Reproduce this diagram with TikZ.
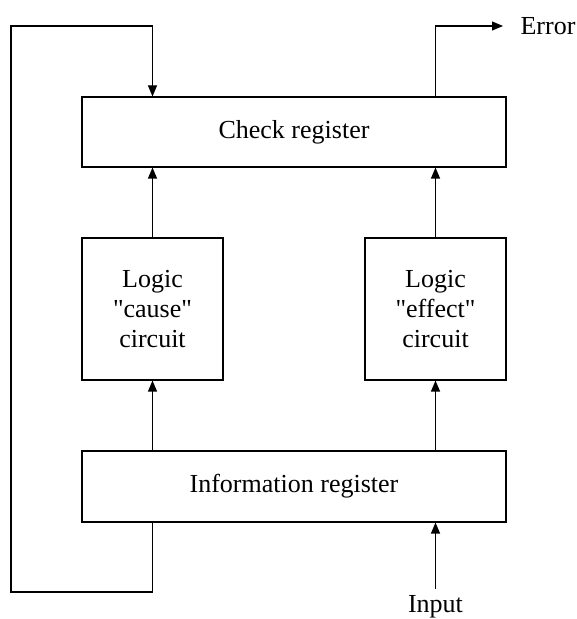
\documentclass[tikz,border=0pt]{standalone}
\usepackage{fontspec}
\setmainfont{Liberation Serif}
\usetikzlibrary{arrows.meta}

\begin{document}
\begin{tikzpicture}[x=1pt, y=1pt, >={Triangle[length=11pt, width=9pt]}, line width=1.1pt,
    block/.style={draw, inner sep=0pt, align=center, font=\fontsize{26}{30}\selectfont},
    lbl/.style={inner sep=0pt, font=\fontsize{26}{30}\selectfont}]
    \useasboundingbox (0,0) rectangle (577,619);
    \node[block, minimum width=424pt, minimum height=70pt] (check) at (294,487) {Check register};
    \node[block, minimum width=141pt, minimum height=142pt] (cause) at (152.5,310)
        {Logic\\\textquotedbl cause\textquotedbl\\circuit};
    \node[block, minimum width=141pt, minimum height=142pt] (effect) at (435.5,310)
        {Logic\\\textquotedbl effect\textquotedbl\\circuit};
    \node[block, minimum width=424pt, minimum height=71pt] (info) at (294,132.5) {Information register};
    \node[lbl, anchor=west] (err) at (520,593) {Error};
    \node[lbl, anchor=north] (inp) at (435.5,24) {Input};
    \coordinate (errEnd) at (503,593);
    \coordinate (inpStart) at (435.5,30);
    \coordinate (loopB) at (11,27);
    \coordinate (loopT) at (11,593);

    \draw[->] (info.north -| cause) -- (cause.south);
    \draw[->] (info.north -| effect) -- (effect.south);
    \draw[->] (cause.north) -- (check.south -| cause);
    \draw[->] (effect.north) -- (check.south -| effect);
    \draw[->] (info.south -| cause) |- (loopB) -- (loopT) -| (check.north -| cause);
    \draw[->] (check.north -| effect) |- (errEnd);
    \draw[->] (inpStart) -- (info.south -| inpStart);
\end{tikzpicture}
\end{document}
